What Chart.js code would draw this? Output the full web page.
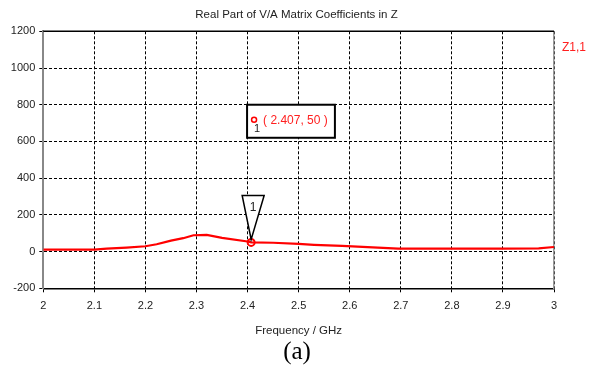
<!DOCTYPE html>
<html>
<head>
<meta charset="utf-8">
<script src="https://cdn.jsdelivr.net/npm/chart.js@4"></script>
<style>
  html, body { margin: 0; padding: 0; background: #fff; }
  #wrap { width: 593px; height: 365px; }
</style>
</head>
<body>
<div id="wrap"><canvas id="zchart"></canvas></div>
<script>
// Real part of Z1,1
const freq = [2.0, 2.05, 2.1, 2.124, 2.163, 2.2, 2.222, 2.25, 2.274, 2.294, 2.32, 2.35, 2.4, 2.407, 2.45, 2.5, 2.53, 2.585, 2.635, 2.695, 2.75, 2.8, 2.85, 2.9, 2.97, 3.0];
const realZ11 = [11, 11, 11, 16, 22, 29, 40, 60, 73, 89, 91, 75, 55, 50, 48, 42, 37, 31, 24, 16, 16, 16, 16, 16, 17, 25];
const markerFreq = [2.407];
const markerValue = [50];
const xTicks = [2, 2.1, 2.2, 2.3, 2.4, 2.5, 2.6, 2.7, 2.8, 2.9, 3];
const yTicks = [-200, 0, 200, 400, 600, 800, 1000, 1200];

const FONT = '"Liberation Sans", Arial, sans-serif';
Chart.defaults.font.family = FONT;
Chart.defaults.font.size = 11;
Chart.defaults.color = '#222';

// top border, marker callout, readout box and labels
const extras = {
    id: 'extras',
    afterDatasetsDraw(chart) {
        const { ctx, chartArea: a, scales: { x, y } } = chart;
        ctx.save();
        // top frame line
        ctx.strokeStyle = '#000';
        ctx.lineWidth = 1.5;
        ctx.beginPath();
        ctx.moveTo(a.left, a.top);
        ctx.lineTo(a.right, a.top);
        ctx.stroke();

        // triangle callout pointing to marker
        const mx = x.getPixelForValue(markerFreq[0]);
        const my = y.getPixelForValue(markerValue[0]);
        const triTop = my - 47;
        ctx.fillStyle = '#fff';
        ctx.strokeStyle = '#000';
        ctx.lineWidth = 1.5;
        ctx.beginPath();
        ctx.moveTo(mx - 9, triTop);
        ctx.lineTo(mx + 13, triTop);
        ctx.lineTo(mx, my - 3);
        ctx.closePath();
        ctx.fill();
        ctx.stroke();
        ctx.fillStyle = '#222';
        ctx.font = '12px ' + FONT;
        ctx.textAlign = 'center';
        ctx.textBaseline = 'middle';
        ctx.fillText('1', mx + 2, triTop + 12);

        // readout box
        const bx0 = x.getPixelForValue(2.399), bx1 = x.getPixelForValue(2.571);
        const by0 = y.getPixelForValue(800), by1 = y.getPixelForValue(620);
        ctx.fillStyle = '#fff';
        ctx.fillRect(bx0, by0, bx1 - bx0, by1 - by0);
        ctx.lineWidth = 2;
        ctx.strokeRect(bx0, by0, bx1 - bx0, by1 - by0);
        ctx.strokeStyle = '#ff0000';
        ctx.lineWidth = 1.5;
        ctx.beginPath();
        ctx.arc(bx0 + 7, by0 + 15, 2.5, 0, Math.PI * 2);
        ctx.stroke();
        ctx.fillStyle = '#222';
        ctx.font = '11px ' + FONT;
        ctx.fillText('1', bx0 + 10, by0 + 24);
        ctx.fillStyle = '#ff2020';
        ctx.font = '12px ' + FONT;
        ctx.textAlign = 'left';
        ctx.fillText('( ' + markerFreq[0] + ', ' + markerValue[0] + ' )', bx0 + 16, by0 + 16);

        // series tag on the right
        ctx.fillStyle = '#ff2020';
        ctx.font = '12px ' + FONT;
        ctx.textAlign = 'center';
        ctx.fillText('Z1,1', 574, a.top + 16);

        // figure caption
        ctx.fillStyle = '#000';
        ctx.font = '25px "Liberation Serif", "Times New Roman", serif';
        ctx.fillText('(a)', 297, 352);
        ctx.restore();
    }
};

const zchart = new Chart(document.getElementById('zchart'), {
    type: 'line',
    data: {
        datasets: [{
            label: 'Z1,1',
            data: freq.map((f, i) => ({ x: f, y: realZ11[i] })),
            borderColor: '#ff0000',
            borderWidth: 2.2,
            pointRadius: 0,
            tension: 0
        }, {
            label: 'marker 1',
            data: markerFreq.map((f, i) => ({ x: f, y: markerValue[i] })),
            showLine: false,
            pointRadius: 3.5,
            borderWidth: 2,
            borderColor: '#ff0000',
            backgroundColor: '#fff'
        }]
    },
    plugins: [extras],
    options: {
        responsive: true,
        maintainAspectRatio: false,
        animation: false,
        layout: { padding: { top: 0, right: 0, bottom: 24, left: 0 } },
        plugins: {
            legend: { display: false },
            tooltip: { enabled: false },
            title: {
                display: true,
                text: 'Real Part of V/A Matrix Coefficients in Z',
                color: '#222',
                font: { size: 11.5, weight: 'normal' },
                padding: { top: 8, bottom: 9.5 }
            }
        },
        scales: {
            x: {
                type: 'linear',
                min: 2,
                max: 3,
                afterBuildTicks: s => { s.ticks = xTicks.map(v => ({ value: v })); },
                afterFit: s => { s.height = 52.7; },
                ticks: {
                    padding: 7,
                    maxRotation: 0,
                    color: '#222',
                    callback: v => String(Number(v.toFixed(1)))
                },
                grid: {
                    color: '#000',
                    lineWidth: 1,
                    tickLength: 4,
                    tickBorderDash: [],
                    tickColor: '#000'
                },
                border: { display: true, color: '#000', width: 1.5, dash: [3, 2] },
                title: {
                    display: true,
                    text: 'Frequency / GHz',
                    color: '#222',
                    font: { size: 11.5 },
                    padding: { top: 0, bottom: 3 }
                }
            },
            y: {
                min: -200,
                max: 1200,
                afterBuildTicks: s => { s.ticks = yTicks.map(v => ({ value: v })); },
                afterFit: s => { s.width = 43.3; },
                ticks: { padding: 4, color: '#222', callback: v => String(v) },
                grid: {
                    color: '#000',
                    lineWidth: 1,
                    tickLength: 4,
                    tickBorderDash: [],
                    tickColor: '#000'
                },
                border: { display: true, color: '#888', width: 2, dash: [3, 2] }
            },
            y2: {
                position: 'right',
                display: true,
                min: -200,
                max: 1200,
                afterFit: s => { s.width = 39; },
                ticks: { display: false },
                grid: { display: false, drawTicks: false },
                border: { display: true, color: '#999', width: 1.5 }
            }
        }
    }
});
</script>
</body>
</html>
